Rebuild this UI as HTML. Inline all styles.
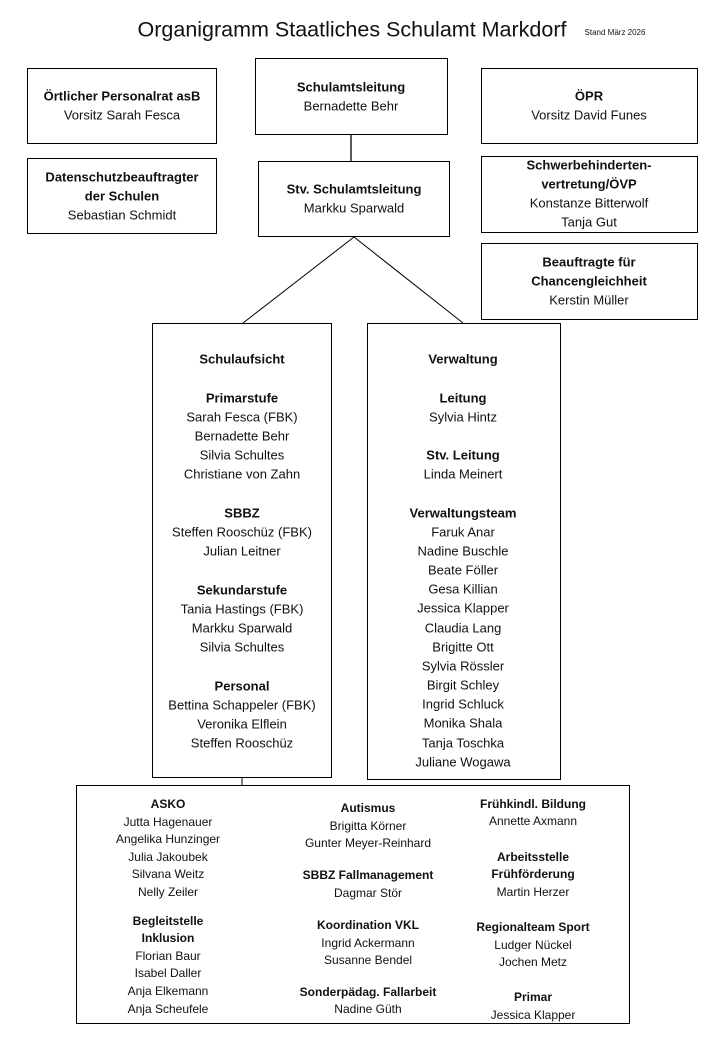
<!DOCTYPE html>
<html><head><meta charset="utf-8"><style>
body{margin:0;background:#fff;}
#c{position:relative;width:720px;height:1040px;overflow:hidden;background:#fff;font-family:"Liberation Sans",sans-serif;color:#111;}
.b{position:absolute;border:1.3px solid #000;box-sizing:border-box;}
.t{position:absolute;transform:translate(-50%,-50%);white-space:nowrap;font-size:13px;line-height:1;}
.s{font-size:12px;}
.B{font-weight:bold;}
</style></head><body><div id="c">
<div class="t" style="left:352px;top:30px;font-size:21.5px;">Organigramm Staatliches Schulamt Markdorf</div>
<div class="t" style="left:615px;top:33px;font-size:8px;">Stand März 2026</div>

<div class="b" style="left:27px;top:68px;width:190px;height:76px"></div>
<div class="t B" style="left:122px;top:96px">Örtlicher Personalrat asB</div>
<div class="t" style="left:122px;top:115px">Vorsitz Sarah Fesca</div>

<div class="b" style="left:27px;top:158px;width:190px;height:76px"></div>
<div class="t B" style="left:122px;top:177px">Datenschutzbeauftragter</div>
<div class="t B" style="left:122px;top:196px">der Schulen</div>
<div class="t" style="left:122px;top:215px">Sebastian Schmidt</div>

<div class="b" style="left:255px;top:58px;width:193px;height:77px"></div>
<div class="t B" style="left:351px;top:87px">Schulamtsleitung</div>
<div class="t" style="left:351px;top:106px">Bernadette Behr</div>

<div class="b" style="left:258px;top:161px;width:192px;height:76px"></div>
<div class="t B" style="left:354px;top:189px">Stv. Schulamtsleitung</div>
<div class="t" style="left:354px;top:208px">Markku Sparwald</div>

<div class="b" style="left:481px;top:68px;width:217px;height:76px"></div>
<div class="t B" style="left:589px;top:96px">ÖPR</div>
<div class="t" style="left:589px;top:115px">Vorsitz David Funes</div>

<div class="b" style="left:481px;top:156px;width:217px;height:77px"></div>
<div class="t B" style="left:589px;top:165px">Schwerbehinderten-</div>
<div class="t B" style="left:589px;top:184px">vertretung/ÖVP</div>
<div class="t" style="left:589px;top:203px">Konstanze Bitterwolf</div>
<div class="t" style="left:589px;top:222px">Tanja Gut</div>

<div class="b" style="left:481px;top:243px;width:217px;height:77px"></div>
<div class="t B" style="left:589px;top:262px">Beauftragte für</div>
<div class="t B" style="left:589px;top:281px">Chancengleichheit</div>
<div class="t" style="left:589px;top:300px">Kerstin Müller</div>

<svg style="position:absolute;left:0;top:0" width="720" height="1040">
<line x1="351" y1="134" x2="351" y2="161" stroke="#000" stroke-width="1.3"/>
<line x1="354" y1="237" x2="243" y2="323" stroke="#000" stroke-width="1"/>
<line x1="354" y1="237" x2="463" y2="323" stroke="#000" stroke-width="1"/>
<line x1="242" y1="777" x2="242" y2="786" stroke="#000" stroke-width="1"/>
</svg>

<div class="b" style="left:152px;top:323px;width:180px;height:455px"></div>
<div class="t B" style="left:242px;top:359px">Schulaufsicht</div>
<div class="t B" style="left:242px;top:398px">Primarstufe</div>
<div class="t" style="left:242px;top:417px">Sarah Fesca (FBK)</div>
<div class="t" style="left:242px;top:436px">Bernadette Behr</div>
<div class="t" style="left:242px;top:455px">Silvia Schultes</div>
<div class="t" style="left:242px;top:474px">Christiane von Zahn</div>
<div class="t B" style="left:242px;top:513px">SBBZ</div>
<div class="t" style="left:242px;top:532px">Steffen Rooschüz (FBK)</div>
<div class="t" style="left:242px;top:551px">Julian Leitner</div>
<div class="t B" style="left:242px;top:590px">Sekundarstufe</div>
<div class="t" style="left:242px;top:609px">Tania Hastings (FBK)</div>
<div class="t" style="left:242px;top:628px">Markku Sparwald</div>
<div class="t" style="left:242px;top:647px">Silvia Schultes</div>
<div class="t B" style="left:242px;top:686px">Personal</div>
<div class="t" style="left:242px;top:705px">Bettina Schappeler (FBK)</div>
<div class="t" style="left:242px;top:724px">Veronika Elflein</div>
<div class="t" style="left:242px;top:743px">Steffen Rooschüz</div>

<div class="b" style="left:367px;top:323px;width:194px;height:457px"></div>
<div class="t B" style="left:463px;top:359px">Verwaltung</div>
<div class="t B" style="left:463px;top:398px">Leitung</div>
<div class="t" style="left:463px;top:417px">Sylvia Hintz</div>
<div class="t B" style="left:463px;top:455px">Stv. Leitung</div>
<div class="t" style="left:463px;top:474px">Linda Meinert</div>
<div class="t B" style="left:463px;top:513px">Verwaltungsteam</div>
<div class="t" style="left:463px;top:532px">Faruk Anar</div>
<div class="t" style="left:463px;top:551px">Nadine Buschle</div>
<div class="t" style="left:463px;top:570px">Beate Föller</div>
<div class="t" style="left:463px;top:589px">Gesa Killian</div>
<div class="t" style="left:463px;top:608px">Jessica Klapper</div>
<div class="t" style="left:463px;top:628px">Claudia Lang</div>
<div class="t" style="left:463px;top:647px">Brigitte Ott</div>
<div class="t" style="left:463px;top:666px">Sylvia Rössler</div>
<div class="t" style="left:463px;top:685px">Birgit Schley</div>
<div class="t" style="left:463px;top:704px">Ingrid Schluck</div>
<div class="t" style="left:463px;top:723px">Monika Shala</div>
<div class="t" style="left:463px;top:743px">Tanja Toschka</div>
<div class="t" style="left:463px;top:762px">Juliane Wogawa</div>

<div class="b" style="left:76px;top:785px;width:554px;height:239px"></div>
<div class="t s B" style="left:168px;top:804px">ASKO</div>
<div class="t s" style="left:168px;top:822px">Jutta Hagenauer</div>
<div class="t s" style="left:168px;top:839px">Angelika Hunzinger</div>
<div class="t s" style="left:168px;top:857px">Julia Jakoubek</div>
<div class="t s" style="left:168px;top:874px">Silvana Weitz</div>
<div class="t s" style="left:168px;top:892px">Nelly Zeiler</div>
<div class="t s B" style="left:168px;top:921px">Begleitstelle</div>
<div class="t s B" style="left:168px;top:938px">Inklusion</div>
<div class="t s" style="left:168px;top:956px">Florian Baur</div>
<div class="t s" style="left:168px;top:973px">Isabel Daller</div>
<div class="t s" style="left:168px;top:991px">Anja Elkemann</div>
<div class="t s" style="left:168px;top:1009px">Anja Scheufele</div>

<div class="t s B" style="left:368px;top:808px">Autismus</div>
<div class="t s" style="left:368px;top:826px">Brigitta Körner</div>
<div class="t s" style="left:368px;top:843px">Gunter Meyer-Reinhard</div>
<div class="t s B" style="left:368px;top:875px">SBBZ Fallmanagement</div>
<div class="t s" style="left:368px;top:893px">Dagmar Stör</div>
<div class="t s B" style="left:368px;top:925px">Koordination VKL</div>
<div class="t s" style="left:368px;top:943px">Ingrid Ackermann</div>
<div class="t s" style="left:368px;top:960px">Susanne Bendel</div>
<div class="t s B" style="left:368px;top:992px">Sonderpädag. Fallarbeit</div>
<div class="t s" style="left:368px;top:1009px">Nadine Güth</div>

<div class="t s B" style="left:533px;top:804px">Frühkindl. Bildung</div>
<div class="t s" style="left:533px;top:821px">Annette Axmann</div>
<div class="t s B" style="left:533px;top:857px">Arbeitsstelle</div>
<div class="t s B" style="left:533px;top:874px">Frühförderung</div>
<div class="t s" style="left:533px;top:892px">Martin Herzer</div>
<div class="t s B" style="left:533px;top:927px">Regionalteam Sport</div>
<div class="t s" style="left:533px;top:945px">Ludger Nückel</div>
<div class="t s" style="left:533px;top:962px">Jochen Metz</div>
<div class="t s B" style="left:533px;top:997px">Primar</div>
<div class="t s" style="left:533px;top:1015px">Jessica Klapper</div>
</div></body></html>
